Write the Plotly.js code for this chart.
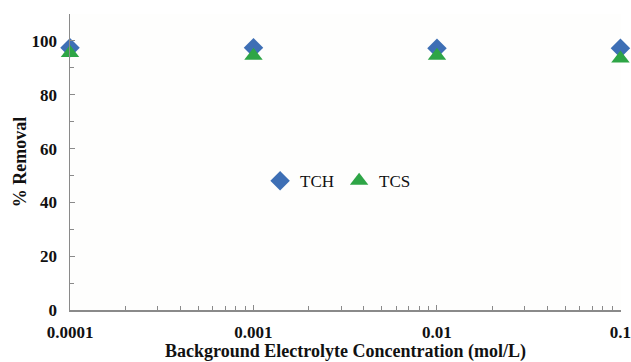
<!DOCTYPE html>
<html><head><meta charset="utf-8">
<script src="https://cdn.plot.ly/plotly-3.0.1.min.js"></script>
<style>html,body{margin:0;padding:0;background:#fff}#c{width:631px;height:362px}</style>
</head><body><div id="c"></div>
<script>
const concentrations = [0.0001, 0.001, 0.01, 0.1];
const tchRemoval = [97.5, 97.5, 97.3, 97.3];
const tcsRemoval = [95.5, 94.5, 94.5, 93.5];
const xTickVals = [0.0001, 0.001, 0.01, 0.1];
const xTickText = ['0.0001', '0.001', '0.01', '0.1'];
const yTickVals = [0, 20, 40, 60, 80, 100];

const traces = [
  {x: concentrations, y: tchRemoval, name: 'TCH', mode: 'markers', type: 'scatter',
   marker: {symbol: 'diamond', size: 15, color: '#3e6fb5'}, cliponaxis: false},
  {x: concentrations, y: tcsRemoval, name: 'TCS', mode: 'markers', type: 'scatter',
   marker: {symbol: 'triangle-up', size: 16, color: '#2ea546'}, cliponaxis: false}
];
const serif = 'Liberation Serif, Times New Roman, serif';
const layout = {
  width: 631, height: 362,
  margin: {l: 70, r: 10, t: 14, b: 52},
  paper_bgcolor: '#ffffff', plot_bgcolor: '#fefefd',
  showlegend: true,
  legend: {orientation: 'h', x: 0.345, y: 0.435, xanchor: 'left', yanchor: 'middle',
    font: {family: serif, size: 17, color: '#111'},
    bgcolor: 'rgba(0,0,0,0)', itemwidth: 30, tracegroupgap: 0},
  xaxis: {type: 'log', range: [-4, -0.997], tickvals: xTickVals, ticktext: xTickText,
    ticks: 'inside', ticklen: 5, tickcolor: '#8a8a8a', showgrid: false, zeroline: false,
    showline: true, linecolor: '#8a8a8a', linewidth: 1.5, ticklabelstandoff: 6,
    ticklabeloverflow: 'allow',
    tickfont: {family: serif, size: 17, color: '#111', weight: 'bold'},
    minor: {ticks: 'inside', ticklen: 4, tickcolor: '#8a8a8a', dtick: 'D1', showgrid: false},
    title: {text: 'Background Electrolyte Concentration (mol/L)', font: {family: serif, size: 18, color: '#111', weight: 'bold'}, standoff: 2}},
  yaxis: {range: [0, 110], tickvals: yTickVals, ticks: 'inside', ticklen: 5, tickcolor: '#8a8a8a',
    showgrid: false, zeroline: false, showline: true, linecolor: '#8a8a8a', linewidth: 1.5,
    ticklabelstandoff: 8,
    tickfont: {family: serif, size: 17, color: '#111', weight: 'bold'},
    minor: {ticks: 'inside', ticklen: 4, tickcolor: '#8a8a8a', dtick: 10, showgrid: false},
    title: {text: '% Removal', font: {family: serif, size: 18, color: '#111', weight: 'bold'}, standoff: 0}}
};
Plotly.newPlot('c', traces, layout, {displayModeBar: false, staticPlot: true});
</script></body></html>
